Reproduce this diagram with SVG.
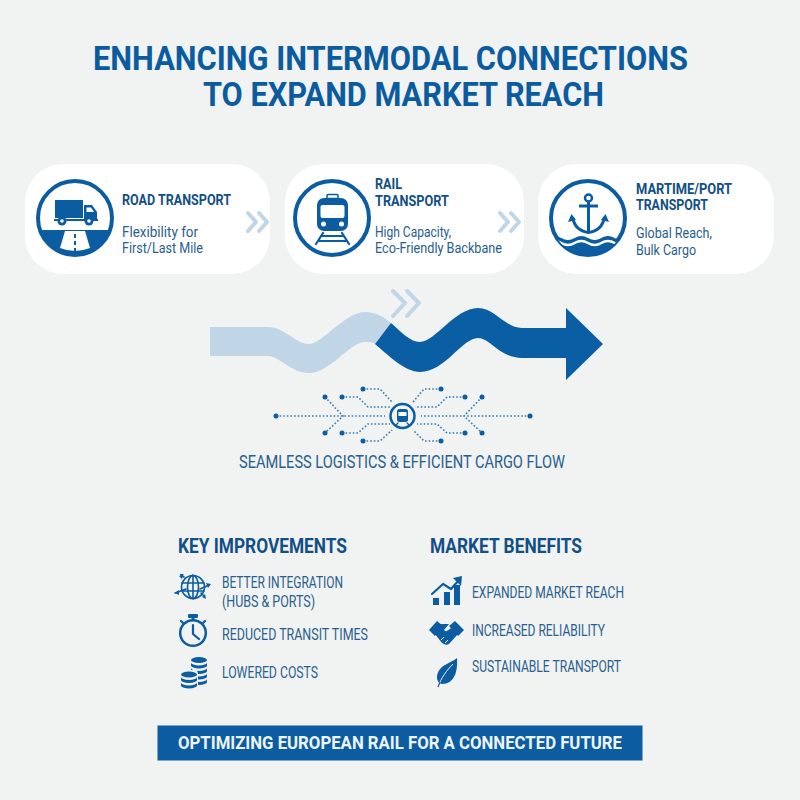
<svg xmlns="http://www.w3.org/2000/svg" width="800" height="800" viewBox="0 0 800 800">
<style>
text{font-family:Roboto,"Liberation Sans",sans-serif}
.title{font-size:34px;font-weight:700;fill:#0b5c9f}
.h{font-size:14.5px;font-weight:700;fill:#124f84}
.s{font-size:14.5px;fill:#27608f}
.sec{font-size:19.5px;font-weight:700;fill:#114f87}
.li{font-size:16px;fill:#27608f}
.card{fill:#fff}
.b{fill:#0b5ca0}
.w{fill:#fff}
.ring{fill:#fff;stroke:#0b5ca0;stroke-width:4}
.ln{fill:none;stroke:#0b5ca0;stroke-width:2.2;stroke-linecap:round;stroke-linejoin:round}
.chev{fill:none;stroke:#c0d6e7;stroke-width:4;stroke-linecap:round;stroke-linejoin:round}
.dot{fill:none;stroke:#2f7db8;stroke-width:1.600;stroke-dasharray:1.600 2}
</style>
<defs>
<clipPath id="c1"><circle cx="75" cy="218" r="37"/></clipPath>
<clipPath id="c3"><circle cx="588" cy="218" r="37"/></clipPath>
<path id="coin" d="M0 0a8 3 0 0 0 16 0v3a8 3 0 0 1-16 0z"/>
</defs>
<rect width="800" height="800" fill="#f1f2f2"/>
<g id="title">
<text class="title" x="93" y="70" textLength="595" lengthAdjust="spacingAndGlyphs">ENHANCING INTERMODAL CONNECTIONS</text>
<text class="title" x="203" y="106" textLength="401" lengthAdjust="spacingAndGlyphs">TO EXPAND MARKET REACH</text>
</g>
<g id="road">
<rect class="card" x="25" y="164" width="245" height="110" rx="38"/>
<circle class="ring" cx="75" cy="218" r="37"/>
<g clip-path="url(#c1)">
<rect class="b" x="36" y="230" width="78" height="30"/>
<path class="w" d="M65 231H85L90 248Q75 254 60 248Z"/>
</g>
<path class="b" d="M74 234h2v4h-2zM74 241h2v4h-2zM74 248h2v3h-2z"/>
<rect class="b" x="55" y="200" width="28" height="18"/>
<path class="b" d="M84 205H92L97 212V220H84Z"/>
<path class="w" d="M86.500 207.500H91L94 212H86.500Z"/>
<rect class="b" x="54" y="219" width="44" height="2"/>
<circle class="b" cx="62" cy="221" r="4.500"/><circle class="w" cx="62" cy="221" r="1.800"/>
<circle class="b" cx="89" cy="221" r="4.500"/><circle class="w" cx="89" cy="221" r="1.800"/>
<text class="h" x="122" y="205" textLength="109" lengthAdjust="spacingAndGlyphs">ROAD TRANSPORT</text>
<text class="s" x="122" y="237" textLength="76" lengthAdjust="spacingAndGlyphs">Flexibility for</text>
<text class="s" x="122" y="253" textLength="81" lengthAdjust="spacingAndGlyphs">First/Last Mile</text>
</g>
<g id="rail">
<rect class="card" x="285" y="164" width="239" height="110" rx="38"/>
<circle class="ring" cx="332" cy="218" r="37"/>
<rect x="327" y="194.500" width="11" height="4" rx="1" fill="#fff" stroke="#0b5ca0" stroke-width="1.500"/>
<rect class="b" x="317" y="198" width="31" height="33" rx="7"/>
<rect class="w" x="320.500" y="205" width="24" height="13" rx="2"/>
<circle class="w" cx="323.500" cy="224" r="2.500"/><circle class="w" cx="341.500" cy="224" r="2.500"/>
<path class="ln" d="M323 233L316 244M342 233L349 244M321 236H344M318 241H347"/>
<text class="h" x="375" y="189" textLength="27" lengthAdjust="spacingAndGlyphs">RAIL</text>
<text class="h" x="375" y="206" textLength="74" lengthAdjust="spacingAndGlyphs">TRANSPORT</text>
<text class="s" x="375" y="237" textLength="76" lengthAdjust="spacingAndGlyphs">High Capacity,</text>
<text class="s" x="375" y="253" textLength="127" lengthAdjust="spacingAndGlyphs">Eco-Friendly Backbane</text>
</g>
<g id="port">
<rect class="card" x="538" y="164" width="236" height="110" rx="38"/>
<circle class="ring" cx="588" cy="218" r="37"/>
<g clip-path="url(#c3)">
<path class="b" d="M548 238q6.700-4 13.300 0t13.300 0t13.400 0t13.300 0t13.300 0t13.400 0V260H548Z"/>
<path d="M548 243q6.700-4 13.300 0t13.300 0t13.400 0t13.300 0t13.300 0t13.400 0" fill="none" stroke="#fff" stroke-width="2.500"/>
</g>
<circle cx="588.500" cy="198" r="3.500" fill="none" stroke="#0b5ca0" stroke-width="2.500"/>
<path class="b" d="M587 201h3v32h-3zM579 204.500h19v3h-19z"/>
<path d="M572.500 217Q575 231 588.500 232.500Q602 231 604.500 217" fill="none" stroke="#0b5ca0" stroke-width="3"/>
<path class="b" d="M571.500 214L568 222L576 220ZM605.500 214L609 222L601 220Z"/>
<text class="h" x="636" y="194" textLength="96" lengthAdjust="spacingAndGlyphs">MARTIME/PORT</text>
<text class="h" x="636" y="210" textLength="72" lengthAdjust="spacingAndGlyphs">TRANSPORT</text>
<text class="s" x="636" y="238" textLength="76" lengthAdjust="spacingAndGlyphs">Global Reach,</text>
<text class="s" x="636" y="255" textLength="60" lengthAdjust="spacingAndGlyphs">Bulk Cargo</text>
</g>
<g id="connectors">
<path class="chev" d="M248 213L256 222L248 231M259 213L267 222L259 231"/>
<path class="chev" d="M500 213L508 222L500 231M511 213L519 222L511 231"/>
<path class="chev" d="M393 291L405 303L393 316M407 291L419 303L407 316"/>
<path fill="#c0d6e7" d="M210 327H268C285 327 295 344 309 344C322 344 345 312 365 312C376 312 384 317 391 323L375 344C372 342 369 342 365 342C350 342 330 373 309 373C290 373 280 356 268 356H210Z"/>
<path fill="#0a5ea3" d="M391 323C400 331 410 342 420 342C435 342 455 308 478 308C495 308 505 328 522 328H566V308L603 344L566 380V358H522C500 358 490 338 478 338C462 338 445 372 420 372C405 372 388 355 375 344Z"/>
<g class="dot">
<path d="M276 416H385M325 397L343 416L325 433M342 397H358L368 407H390M342 433H358L368 424H390M363 389H380L392 402M363 441H380L392 430"/>
<path d="M530 416H421M482 397L464 416L482 433M465 397H447L437 407H415M465 433H447L437 424H417M441 389H424L413 402M441 441H424L413 430"/>
</g>
<g class="b">
<circle cx="276" cy="416" r="2.500"/><circle cx="530" cy="416" r="2.500"/>
<circle cx="325" cy="397" r="2.500"/><circle cx="325" cy="433" r="2.500"/>
<circle cx="342" cy="397" r="2.500"/><circle cx="342" cy="433" r="2.500"/>
<circle cx="363" cy="389" r="2.500"/><circle cx="363" cy="441" r="2.500"/>
<circle cx="441" cy="389" r="2.500"/><circle cx="441" cy="441" r="2.500"/>
<circle cx="465" cy="397" r="2.500"/><circle cx="465" cy="433" r="2.500"/>
<circle cx="482" cy="397" r="2.500"/><circle cx="482" cy="433" r="2.500"/>
</g>
</g>
<g id="hub">
<circle cx="402.500" cy="416" r="12" fill="#f1f2f2" stroke="#0b5ca0" stroke-width="2.500"/>
<rect class="b" x="397" y="409" width="11" height="13" rx="2.500"/>
<rect class="w" x="398.500" y="412" width="8" height="4"/>
<path class="ln" style="stroke-width:1.200" d="M398 423L396 425M407 423L409 425"/>
</g>
<text x="239" y="468" font-size="17.500" fill="#27608f" textLength="326" lengthAdjust="spacingAndGlyphs">SEAMLESS LOGISTICS &amp; EFFICIENT CARGO FLOW</text>
<g id="improvements">
<text class="sec" x="178" y="553" textLength="169" lengthAdjust="spacingAndGlyphs">KEY IMPROVEMENTS</text>
<g id="globe" class="ln" style="stroke-width:1.600">
<circle cx="193" cy="587" r="11.500"/>
<ellipse cx="193" cy="587" rx="5.500" ry="11.500"/>
<path d="M182 583H204M182 591H204M193 575V599"/>
<path d="M175 593L186 589M209 585L200 589M184 577L181 575M204 596L201 593"/>
</g>
<path class="b" d="M175 593l4-3v5zM211 584l-5-1 2 5zM180 574l4 0-3 3zM206 599l-1-5-3 3zM183 575l-1 4-3-3z"/>
<g id="clock">
<circle cx="193" cy="633" r="12.800" fill="none" stroke="#0b5ca0" stroke-width="2.500"/>
<rect class="b" x="188" y="614" width="10" height="4" rx="1"/>
<rect class="b" x="191.500" y="617" width="3" height="4"/>
<path class="ln" d="M193 625V634L199 639"/>
<path class="ln" d="M181 621L183 623M205 621L203 623"/>
</g>
<g id="coins" class="b">
<ellipse cx="199" cy="660" rx="8" ry="3"/>
<use href="#coin" x="191" y="662.500"/><use href="#coin" x="191" y="668"/><use href="#coin" x="191" y="673.500"/><use href="#coin" x="191" y="679"/>
<rect x="180" y="670" width="18" height="20" fill="#f1f2f2" rx="4"/>
<ellipse cx="189" cy="674.500" rx="8" ry="3"/>
<use href="#coin" x="181" y="677"/><use href="#coin" x="181" y="682.500"/>
</g>
<text class="li" x="222" y="588" textLength="121" lengthAdjust="spacingAndGlyphs">BETTER INTEGRATION</text>
<text class="li" x="222" y="607" textLength="93" lengthAdjust="spacingAndGlyphs">(HUBS &amp; PORTS)</text>
<text class="li" x="222" y="640" textLength="146" lengthAdjust="spacingAndGlyphs">REDUCED TRANSIT TIMES</text>
<text class="li" x="222" y="678" textLength="96" lengthAdjust="spacingAndGlyphs">LOWERED COSTS</text>
</g>
<g id="benefits">
<text class="sec" x="430" y="553" textLength="152" lengthAdjust="spacingAndGlyphs">MARKET BENEFITS</text>
<g id="chart">
<path class="b" d="M433 598h6v7h-6zM444 592h6v13h-6zM454 585h6v20h-6z"/>
<path class="ln" d="M432 594L443 584L451 589L459 580"/>
<path class="b" d="M462 576L461 586L453 578Z"/>
</g>
<g id="handshake">
<path class="b" d="M429 630L437 621L443 626L435 636ZM464 630L455 621L449 626L458 636Z"/>
<path class="b" d="M441 624H449L444 630Q446 633 451 628L458 634L449 644Q446 646 442 643L435 634Z"/>
<path d="M444 637L441 640M448 640L445 643" stroke="#f1f2f2" stroke-width="1" fill="none"/>
</g>
<g id="leaf">
<path class="b" d="M457 658C458 672 454 684 442 684C436 683 435 674 441 668C445 664 452 662 457 658Z"/>
<path d="M438 687C441 678 447 670 453 664" fill="none" stroke="#f1f2f2" stroke-width="1"/>
<path d="M438 687L440 682" stroke="#0b5ca0" stroke-width="1.200"/>
</g>
<text class="li" x="472" y="598" textLength="152" lengthAdjust="spacingAndGlyphs">EXPANDED MARKET REACH</text>
<text class="li" x="472" y="636" textLength="133" lengthAdjust="spacingAndGlyphs">INCREASED RELIABILITY</text>
<text class="li" x="472" y="672" textLength="149" lengthAdjust="spacingAndGlyphs">SUSTAINABLE TRANSPORT</text>
</g>
<g id="footer">
<rect class="b" x="157.500" y="725.500" width="485" height="35"/>
<text x="178" y="749" font-size="19" font-weight="700" fill="#eef4fa" textLength="444" lengthAdjust="spacingAndGlyphs">OPTIMIZING EUROPEAN RAIL FOR A CONNECTED FUTURE</text>
</g>
</svg>
